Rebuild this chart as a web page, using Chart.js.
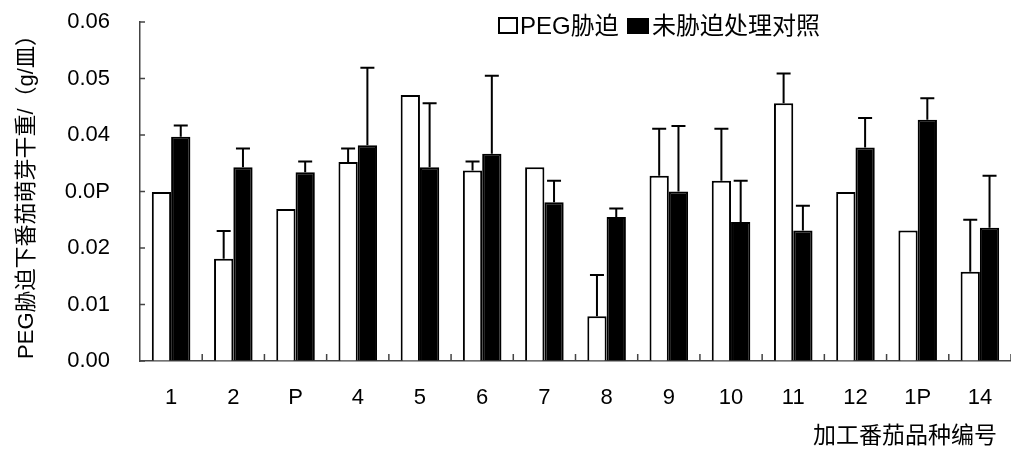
<!DOCTYPE html>
<html>
<head>
<meta charset="utf-8">
<script src="https://cdn.jsdelivr.net/npm/chart.js@4.4.0/dist/chart.umd.min.js"></script>
<style>
body { margin: 0; background: #fff; }
#wrap { width: 1011px; height: 452px; }
</style>
</head>
<body>
<div id="wrap"><canvas id="myChart"></canvas></div>
<script>
const categories = ['1', '2', 'P', '4', '5', '6', '7', '8', '9', '10', '11', '12', '1P', '14'];
const pegValues = [0.0299, 0.0181, 0.0269, 0.0352, 0.0471, 0.0337, 0.0343, 0.0079, 0.0328, 0.0319, 0.0456, 0.0299, 0.0231, 0.0158];
const pegErrors = [0, 0.0049, 0, 0.0024, 0, 0.0016, 0, 0.0073, 0.0083, 0.0092, 0.0053, 0, 0, 0.0092];
const ctrlValues = [0.0397, 0.0343, 0.0334, 0.0382, 0.0343, 0.0367, 0.0281, 0.0255, 0.0300, 0.0246, 0.0231, 0.0378, 0.0427, 0.0236];
const ctrlErrors = [0.0020, 0.0033, 0.0019, 0.0137, 0.0113, 0.0138, 0.0038, 0.0015, 0.0116, 0.0073, 0.0044, 0.0052, 0.0038, 0.0092];
const yTickLabels = ['0.00', '0.01', '0.02', '0.0P', '0.04', '0.05', '0.06'];

const FONT = "'Liberation Sans', Arial, 'Noto Sans CJK SC', sans-serif";
const ctx = document.getElementById('myChart');

// error bars (up only), inner tick marks, legend and x title
const extras = {
    id: 'extras',
    afterDatasetsDraw(chart) {
        const c = chart.ctx;
        const y = chart.scales.y;
        c.save();
        c.strokeStyle = '#000';
        c.lineWidth = 2;
        chart.data.datasets.forEach((ds, di) => {
            chart.getDatasetMeta(di).data.forEach((bar, i) => {
                const err = ds.errors[i];
                if (!err) return;
                const top = y.getPixelForValue(ds.data[i] + err);
                c.beginPath();
                c.moveTo(bar.x, bar.y);
                c.lineTo(bar.x, top);
                c.moveTo(bar.x - 7, top);
                c.lineTo(bar.x + 7, top);
                c.stroke();
            });
        });
        c.restore();
    },
    afterDraw(chart) {
        const c = chart.ctx;
        const x = chart.scales.x;
        const y = chart.scales.y;
        const a = chart.chartArea;
        c.save();
        c.strokeStyle = '#444';
        c.lineWidth = 1.5;
        c.beginPath();
        y.ticks.forEach(t => {
            const py = y.getPixelForValue(t.value);
            c.moveTo(a.left, py);
            c.lineTo(a.left + 5, py);
        });
        for (let i = 1; i <= categories.length; i++) {
            const px = i < categories.length
                ? (x.getPixelForValue(i - 1) + x.getPixelForValue(i)) / 2
                : a.right;
            c.moveTo(px, a.bottom);
            c.lineTo(px, a.bottom - 7);
        }
        c.stroke();

        // legend
        c.lineWidth = 2;
        c.strokeStyle = '#000';
        c.fillStyle = '#fff';
        c.fillRect(499, 18, 18, 15);
        c.strokeRect(499, 18, 18, 15);
        c.fillStyle = '#000';
        c.fillRect(627, 18, 22, 16);
        c.font = '24px ' + FONT;
        c.textBaseline = 'middle';
        c.textAlign = 'left';
        c.fillText(chart.data.datasets[0].label, 520, 27);
        c.fillText(chart.data.datasets[1].label, 652, 27);

        // x title
        c.font = '23px ' + FONT;
        c.textAlign = 'right';
        c.fillText('加工番茄品种编号', 997, 437);
        c.restore();
    }
};

// hidden tick marks only used to push the labels away from the axis
const hiddenGrid = len => ({
    display: true,
    drawOnChartArea: false,
    drawTicks: true,
    tickLength: len,
    color: 'rgba(0,0,0,0)'
});

new Chart(ctx, {
    type: 'bar',
    data: {
        labels: categories,
        datasets: [
            {
                label: 'PEG胁迫',
                data: pegValues,
                errors: pegErrors,
                backgroundColor: '#fff',
                borderColor: '#000',
                borderWidth: 2
            },
            {
                label: '未胁迫处理对照',
                data: ctrlValues,
                errors: ctrlErrors,
                backgroundColor: '#000',
                borderColor: '#000',
                borderWidth: 2
            }
        ]
    },
    options: {
        responsive: true,
        maintainAspectRatio: false,
        animation: false,
        layout: { padding: { top: 22, right: 0, left: 0, bottom: 0 } },
        datasets: { bar: { categoryPercentage: 0.62, barPercentage: 1 } },
        plugins: {
            legend: { display: false },
            tooltip: { enabled: false }
        },
        scales: {
            x: {
                afterFit: s => { s.height = 91; },
                grid: hiddenGrid(24),
                border: { display: true, color: '#444', width: 1.5 },
                ticks: { color: '#000', font: { family: FONT, size: 22 }, padding: 0, maxRotation: 0 }
            },
            y: {
                min: 0,
                max: 0.06,
                afterFit: s => { s.width = 140; },
                grid: hiddenGrid(30),
                border: { display: true, color: '#444', width: 1.5 },
                ticks: {
                    stepSize: 0.01,
                    color: '#000',
                    padding: 0,
                    font: { family: FONT, size: 22 },
                    callback: (v, i) => yTickLabels[i]
                },
                title: {
                    display: true,
                    text: 'PEG胁迫下番茄萌芽干重/（g/皿）',
                    color: '#000',
                    font: { family: FONT, size: 22 },
                    padding: { top: 14, bottom: 0 }
                }
            }
        }
    },
    plugins: [extras]
});
</script>
</body>
</html>
